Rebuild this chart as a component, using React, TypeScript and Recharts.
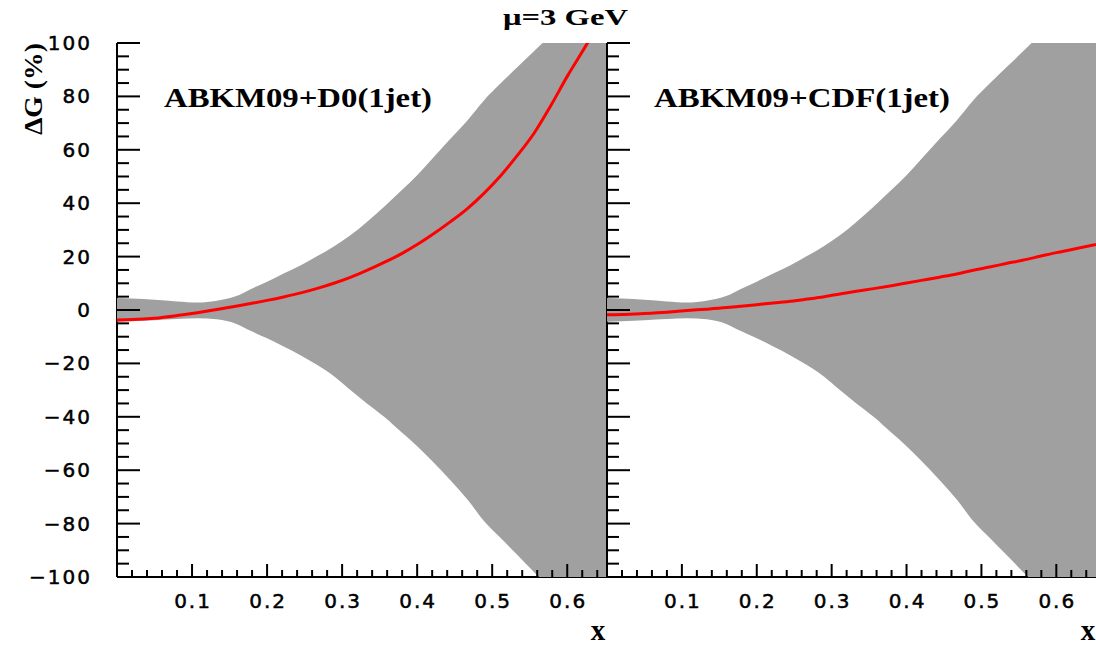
import { ComposedChart, Area, Line, XAxis, YAxis } from "recharts"

// x grid shared by the band and both fits
const xValues = [
  0, 0.02, 0.05, 0.08, 0.107, 0.133, 0.16, 0.178, 0.2, 0.222, 0.245, 0.267, 0.29, 0.311, 0.333,
  0.356, 0.38, 0.4, 0.418, 0.444, 0.467, 0.489, 0.511, 0.533, 0.556, 0.578, 0.6, 0.627, 0.653,
]

// uncertainty band (%), same in both panels
const bandHigh = [
  4.5, 4.3, 3.8, 3.2, 2.8, 3.5, 5.3, 7.8, 10.6, 13.7, 16.8, 20.2, 24, 28, 33, 38.7, 45, 50.5, 56, 64,
  71, 78.5, 84.8, 90.8, 97, 103, 109, 117, 124,
]
const bandLow = [
  -4.4, -4.2, -3.8, -3.4, -3.1, -3.5, -5.3, -7.8, -10.6, -13.7, -17, -20.6, -25, -30, -35, -40, -46,
  -51, -56, -63.7, -71, -79, -85.3, -91.6, -98.2, -104, -110, -118, -125,
]

// central curves
const d0Fit = [
  -3.7, -3.6, -3.1, -2.1, -1.0, 0.2, 1.5, 2.4, 3.6, 4.9, 6.4, 8.1, 10.1, 12.2, 14.8, 17.8, 21.2, 24.5,
  27.8, 33, 38, 43.7, 50.2, 57.7, 66.3, 76.5, 87.5, 100, 113,
]
const cdfFit = [
  -1.8, -1.7, -1.3, -0.8, -0.2, 0.3, 0.9, 1.4, 2.0, 2.6, 3.3, 4.1, 5.0, 6.0, 7.0, 8.0, 9.1, 10.1,
  11.0, 12.3, 13.5, 14.9, 16.1, 17.4, 18.7, 20.1, 21.5, 23, 24.5,
]

const yTicks = [
  -100, -95, -90, -85, -80, -75, -70, -65, -60, -55, -50, -45, -40, -35, -30, -25, -20, -15, -10, -5,
  0, 5, 10, 15, 20, 25, 30, 35, 40, 45, 50, 55, 60, 65, 70, 75, 80, 85, 90, 95, 100,
]
const xTicks = [
  0.02, 0.04, 0.06, 0.08, 0.1, 0.12, 0.14, 0.16, 0.18, 0.2, 0.22, 0.24, 0.26, 0.28, 0.3, 0.32, 0.34,
  0.36, 0.38, 0.4, 0.42, 0.44, 0.46, 0.48, 0.5, 0.52, 0.54, 0.56, 0.58, 0.6, 0.62, 0.64,
]

const tickFont = "'DejaVu Sans', sans-serif"
const serif = "'Liberation Serif', 'Times New Roman', serif"

const fmtY = (v: number) => (v < 0 ? `\u2212${Math.abs(v)}` : `${v}`)

const YTick = ({ x, y, payload, showLabel }: any) => {
  const v = payload.value
  const major = v % 20 === 0
  return (
    <g>
      <line x1={x} y1={y} x2={x + (major ? 23 : 12)} y2={y} stroke="#000" strokeWidth={2} />
      {showLabel && major && (
        <text x={x - 25} y={y + 7} textAnchor="end" fontFamily={tickFont} fontSize={20} letterSpacing={2} fill="#000" stroke="#000" strokeWidth={0.5}>
          {fmtY(v)}
        </text>
      )}
    </g>
  )
}

const XTick = ({ x, y, payload }: any) => {
  const v = payload.value
  const major = Math.abs(v * 10 - Math.round(v * 10)) < 1e-6
  return (
    <g>
      <line x1={x} y1={y} x2={x} y2={y - (major ? 13 : 7)} stroke="#000" strokeWidth={2} />
      {major && (
        <text x={x + 1} y={y + 31} textAnchor="middle" fontFamily={tickFont} fontSize={20} letterSpacing={2} fill="#000" stroke="#000" strokeWidth={0.5}>
          {v.toFixed(1)}
        </text>
      )}
    </g>
  )
}

function Panel({ fit, showYLabels, width, yAxisWidth }: { fit: number[]; showYLabels: boolean; width: number; yAxisWidth: number }) {
  const data = xValues.map((x, i) => ({ x, band: [bandLow[i], bandHigh[i]], fit: fit[i] }))
  return (
    <ComposedChart width={width} height={648} data={data} margin={{ top: 43, right: 0, bottom: 21, left: 0 }}>
      <XAxis
        dataKey="x"
        type="number"
        domain={[0, 0.653]}
        allowDataOverflow
        ticks={xTicks}
        interval={0}
        height={50}
        tickSize={0}
        tickMargin={0}
        tickLine={false}
        axisLine={{ stroke: "#000", strokeWidth: 2 }}
        tick={(p: any) => <XTick {...p} />}
      />
      <XAxis xAxisId="top" orientation="top" dataKey="x" type="number" domain={[0, 0.653]} height={0} tick={false} tickLine={false} axisLine={{ stroke: "#000", strokeWidth: 2 }} />
      <YAxis
        type="number"
        domain={[-100, 100]}
        allowDataOverflow
        ticks={yTicks}
        interval={0}
        width={yAxisWidth}
        tickSize={0}
        tickMargin={0}
        tickLine={false}
        axisLine={{ stroke: "#000", strokeWidth: 2 }}
        tick={(p: any) => <YTick {...p} showLabel={showYLabels} />}
      />
      <Area dataKey="band" type="monotone" stroke="none" fill="#a0a0a0" fillOpacity={1} isAnimationActive={false} zIndex={600} />
      <Line dataKey="fit" type="monotone" stroke="#ff0000" strokeWidth={3} dot={false} isAnimationActive={false} zIndex={700} />
    </ComposedChart>
  )
}

export default function App() {
  return (
    <div style={{ position: "absolute", left: 0, top: 0, width: 1096, height: 648, background: "#fff", overflow: "hidden" }}>
      <div style={{ position: "absolute", left: 0, top: 0 }}>
        <Panel fit={d0Fit} showYLabels width={607} yAxisWidth={117} />
      </div>
      <div style={{ position: "absolute", left: 557, top: 0 }}>
        <Panel fit={cdfFit} showYLabels={false} width={539} yAxisWidth={50} />
      </div>
      <svg width={1096} height={648} style={{ position: "absolute", left: 0, top: 0, pointerEvents: "none" }}>
        <text x={503} y={25} fontFamily={serif} fontWeight="bold" fontSize={24} textLength={125} lengthAdjust="spacingAndGlyphs">
          μ=3 GeV
        </text>
        <text x={164} y={107} fontFamily={serif} fontWeight="bold" fontSize={28} textLength={268} lengthAdjust="spacingAndGlyphs">
          ABKM09+D0(1jet)
        </text>
        <text x={654} y={107} fontFamily={serif} fontWeight="bold" fontSize={28} textLength={296} lengthAdjust="spacingAndGlyphs">
          ABKM09+CDF(1jet)
        </text>
        <text x={42} y={43} transform="rotate(-90 42 43)" textAnchor="end" fontFamily={serif} fontWeight="bold" fontSize={26} textLength={92} lengthAdjust="spacingAndGlyphs">
          ΔG (%)
        </text>
        <text x={598} y={640} textAnchor="middle" fontFamily={serif} fontWeight="bold" fontSize={29}>
          x
        </text>
        <text x={1088} y={640} textAnchor="middle" fontFamily={serif} fontWeight="bold" fontSize={29}>
          x
        </text>
      </svg>
    </div>
  )
}
